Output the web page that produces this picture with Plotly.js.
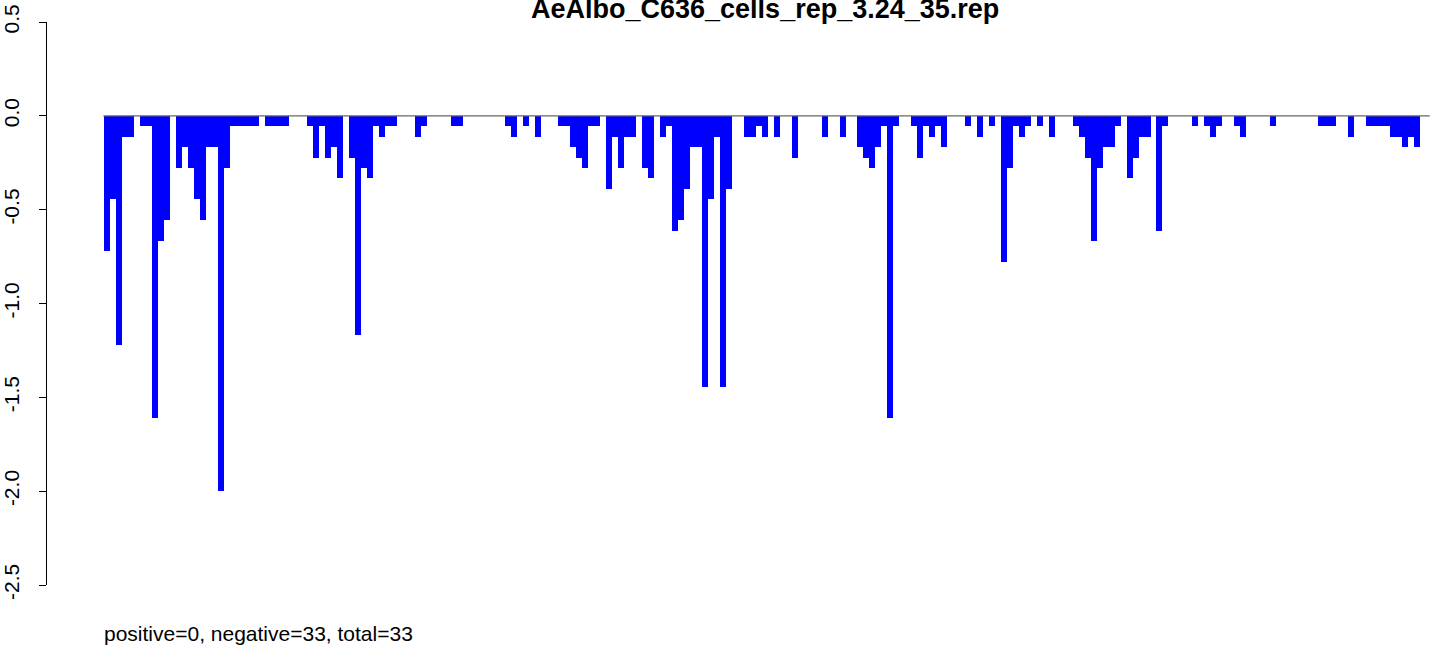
<!DOCTYPE html>
<html>
<head>
<meta charset="utf-8">
<script src="https://cdn.plot.ly/plotly-3.0.1.min.js"></script>
<style>html,body{margin:0;padding:0;background:#fff;}#chart{width:1433px;height:645px;}</style>
</head>
<body>
<div id="chart"></div>
<script>
// Chart texts
const chartTitle = "AeAlbo_C636_cells_rep_3.24_35.rep";
const subText = "positive=0, negative=33, total=33";

// Y tick labels
const yTickValues = [0.5, 0.0, -0.5, -1.0, -1.5, -2.0, -2.5];
const yTickLabels = ["0.5", "0.0", "-0.5", "-1.0", "-1.5", "-2.0", "-2.5"];

// Bar values, in order left to right (220 positions)
const values = [
  -0.722, -0.444, -1.222, -0.111, -0.111, 0, -0.056, -0.056, -1.611, -0.667,
  -0.556, 0, -0.278, -0.167, -0.278, -0.444, -0.556, -0.167, -0.167, -2.0,
  -0.278, -0.056, -0.056, -0.056, -0.056, -0.056, 0, -0.056, -0.056, -0.056,
  -0.056, 0, 0, 0, -0.056, -0.222, -0.056, -0.222, -0.167, -0.333,
  0, -0.222, -1.167, -0.278, -0.333, -0.056, -0.111, -0.056, -0.056, 0,
  0, 0, -0.111, -0.056, 0, 0, 0, 0, -0.056, -0.056,
  0, 0, 0, 0, 0, 0, 0, -0.056, -0.111, 0,
  -0.056, 0, -0.111, 0, 0, 0, -0.056, -0.056, -0.167, -0.222,
  -0.278, -0.056, -0.056, 0, -0.389, -0.111, -0.278, -0.111, -0.111, 0,
  -0.278, -0.333, 0, -0.111, -0.056, -0.611, -0.556, -0.389, -0.167, -0.167,
  -1.444, -0.444, -0.111, -1.444, -0.389, 0, 0, -0.111, -0.111, -0.056,
  -0.111, 0, -0.111, 0, 0, -0.222, 0, 0, 0, 0,
  -0.111, 0, 0, -0.111, 0, 0, -0.167, -0.222, -0.278, -0.167,
  -0.056, -1.611, -0.056, 0, 0, -0.056, -0.222, -0.056, -0.111, -0.056,
  -0.167, 0, 0, 0, -0.056, 0, -0.111, 0, -0.056, 0,
  -0.778, -0.278, -0.056, -0.111, -0.056, 0, -0.056, 0, -0.111, 0,
  0, 0, -0.056, -0.111, -0.222, -0.667, -0.278, -0.167, -0.167, -0.056,
  0, -0.333, -0.222, -0.111, -0.111, 0, -0.611, -0.056, 0, 0,
  0, 0, -0.056, 0, -0.056, -0.111, -0.056, 0, 0, -0.056,
  -0.111, 0, 0, 0, 0, -0.056, 0, 0, 0, 0,
  0, 0, 0, -0.056, -0.056, -0.056, 0, 0, -0.111, 0,
  0, -0.056, -0.056, -0.056, -0.056, -0.111, -0.111, -0.167, -0.111, -0.167
];

const positions = values.map((v, i) => i);

const W = 1433, H = 645;
const mL = 47, mR = 0, mT = 22, mB = 60;
const plotH = H - mT - mB;
const pxToPaperY = p => (H - mB - p) / plotH;
const pxToPaperX = p => (p - mL) / (W - mL - mR);

const trace = {
  type: "bar",
  x: positions,
  y: values,
  width: 1,
  marker: { color: "#0000FF", line: { width: 0 } },
  hoverinfo: "x+y"
};

const layout = {
  width: W,
  height: H,
  margin: { l: mL, r: mR, t: mT, b: mB, pad: 0 },
  paper_bgcolor: "#ffffff",
  plot_bgcolor: "#ffffff",
  showlegend: false,
  bargap: 0,
  font: { family: "Liberation Sans, Arial, sans-serif", color: "#000" },
  xaxis: {
    range: [-10.03, 221.74],
    visible: false,
    fixedrange: true
  },
  yaxis: {
    range: [-2.5, 0.5],
    tickvals: yTickValues,
    ticktext: yTickLabels,
    tickangle: -90,
    ticks: "outside",
    ticklen: 7,
    tickwidth: 1,
    tickcolor: "#000",
    ticklabelstandoff: 12,
    showline: true,
    linecolor: "#000",
    linewidth: 1,
    showgrid: false,
    zeroline: false,
    tickfont: { family: "Liberation Sans, Arial, sans-serif", size: 21, color: "#000" },
    fixedrange: true
  },
  shapes: [
    {
      type: "line", xref: "x", yref: "y",
      x0: -0.6, x1: 221.2, y0: 0, y1: 0,
      line: { color: "#666666", width: 1.3 },
      layer: "above"
    }
  ],
  annotations: [
    {
      text: "<b>" + chartTitle + "</b>",
      xref: "paper", yref: "paper",
      x: pxToPaperX(765), y: pxToPaperY(9),
      xanchor: "center", yanchor: "middle",
      showarrow: false,
      font: { size: 27, family: "Liberation Sans, Arial, sans-serif", color: "#000" }
    },
    {
      text: subText,
      xref: "paper", yref: "paper",
      x: pxToPaperX(102), y: pxToPaperY(633),
      xanchor: "left", yanchor: "middle",
      showarrow: false,
      font: { size: 21, family: "Liberation Sans, Arial, sans-serif", color: "#000" }
    }
  ]
};

Plotly.newPlot("chart", [trace], layout, { displayModeBar: false, staticPlot: true });
</script>
</body>
</html>
